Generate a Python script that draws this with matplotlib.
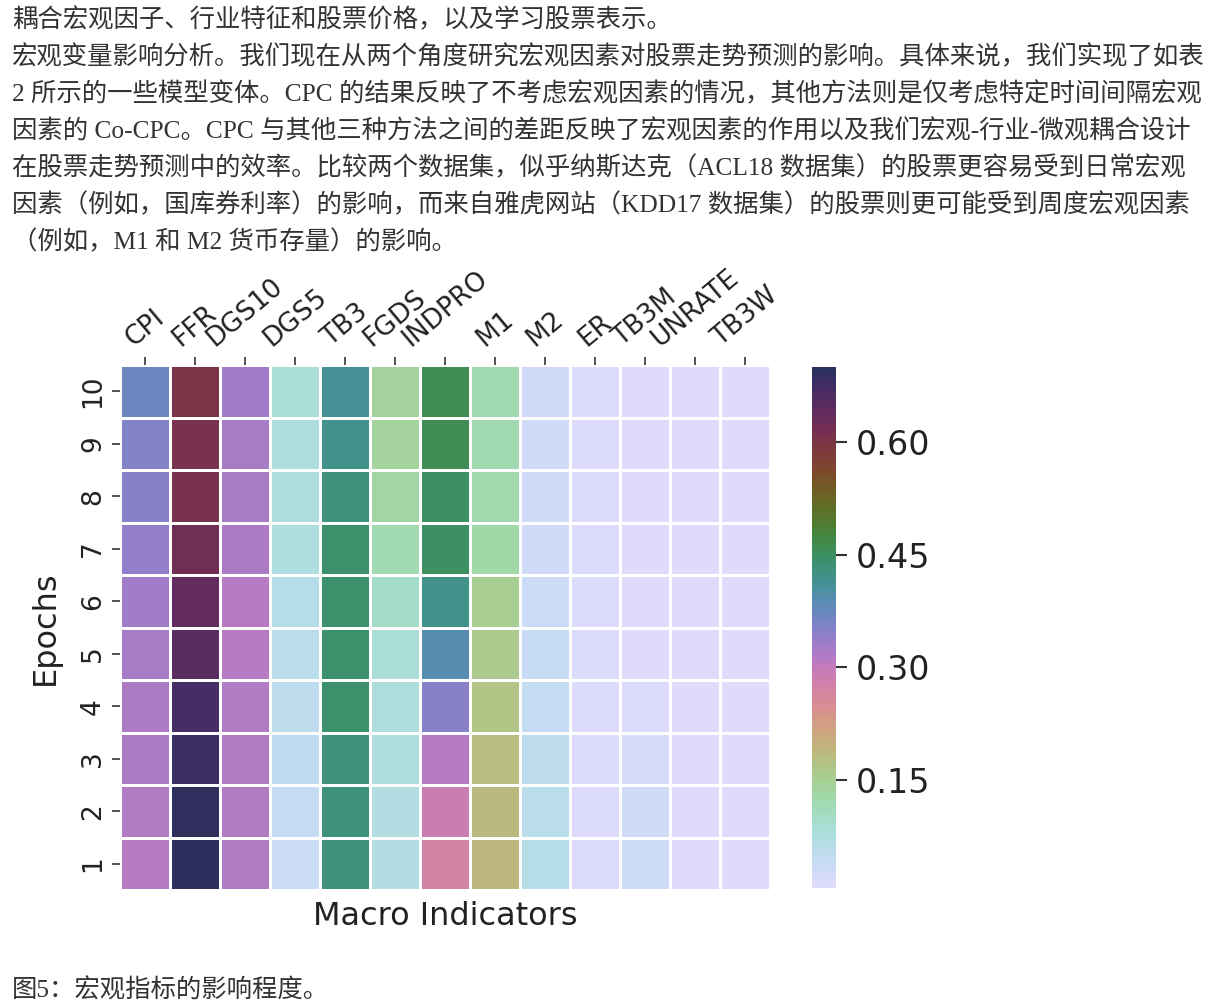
import numpy as np
import matplotlib
matplotlib.use("Agg")
import matplotlib.pyplot as plt
from matplotlib.colors import ListedColormap, Normalize
from matplotlib.colorbar import ColorbarBase

plt.rcParams['font.family'] = ['DejaVu Sans', 'Noto Sans CJK SC']

# ---------------- data ----------------
indicators = ["CPI", "FFR", "DGS10", "DGS5", "TB3", "FGDS", "INDPRO",
              "M1", "M2", "ER", "TB3M", "UNRATE", "TB3W"]
epochs = [1, 2, 3, 4, 5, 6, 7, 8, 9, 10]

CPI    = [0.310, 0.315, 0.320, 0.320, 0.325, 0.330, 0.340, 0.350, 0.355, 0.370]
FFR    = [0.70, 0.69, 0.68, 0.67, 0.65, 0.64, 0.62, 0.61, 0.61, 0.60]
DGS10  = [0.315, 0.315, 0.315, 0.315, 0.310, 0.310, 0.320, 0.325, 0.325, 0.330]
DGS5   = [0.038, 0.042, 0.047, 0.052, 0.058, 0.065, 0.072, 0.075, 0.078, 0.080]
TB3    = [0.43, 0.43, 0.43, 0.44, 0.44, 0.44, 0.44, 0.43, 0.42, 0.41]
FGDS   = [0.070, 0.070, 0.072, 0.075, 0.080, 0.100, 0.120, 0.135, 0.140, 0.140]
INDPRO = [0.27, 0.29, 0.31, 0.35, 0.39, 0.42, 0.45, 0.45, 0.46, 0.46]
M1     = [0.190, 0.185, 0.180, 0.170, 0.160, 0.150, 0.130, 0.125, 0.120, 0.120]
M2     = [0.065, 0.060, 0.050, 0.045, 0.040, 0.035, 0.030, 0.030, 0.030, 0.030]
ER     = [0.012, 0.012, 0.012, 0.012, 0.012, 0.012, 0.012, 0.012, 0.012, 0.012]
TB3M   = [0.035, 0.030, 0.020, 0.012, 0.010, 0.010, 0.010, 0.010, 0.010, 0.010]
UNRATE = [0.010, 0.010, 0.010, 0.010, 0.010, 0.010, 0.010, 0.010, 0.010, 0.010]
TB3W   = [0.006, 0.008, 0.008, 0.008, 0.008, 0.008, 0.008, 0.008, 0.008, 0.008]

cbar_ticks = [0.15, 0.30, 0.45, 0.60]

para_lines = [
    "耦合宏观因子、行业特征和股票价格，以及学习股票表示。",
    "宏观变量影响分析。我们现在从两个角度研究宏观因素对股票走势预测的影响。具体来说，我们实现了如表",
    "2 所示的一些模型变体。CPC 的结果反映了不考虑宏观因素的情况，其他方法则是仅考虑特定时间间隔宏观",
    "因素的 Co-CPC。CPC 与其他三种方法之间的差距反映了宏观因素的作用以及我们宏观-行业-微观耦合设计",
    "在股票走势预测中的效率。比较两个数据集，似乎纳斯达克（ACL18 数据集）的股票更容易受到日常宏观",
    "因素（例如，国库券利率）的影响，而来自雅虎网站（KDD17 数据集）的股票则更可能受到周度宏观因素",
    "（例如，M1 和 M2 货币存量）的影响。",
]
caption = "图5：宏观指标的影响程度。"


# ---------------- colormap (cubehelix, light -> dark) ----------------
def cubehelix_cmap(start, rot, hue, gamma, light, dark, n=256):
    x = np.linspace(light, dark, n)
    xg = x ** gamma
    a = hue * xg * (1 - xg) / 2
    phi = 2 * np.pi * (start / 3 + rot * x)
    r = xg + a * (-0.14861 * np.cos(phi) + 1.78277 * np.sin(phi))
    g = xg + a * (-0.29227 * np.cos(phi) - 0.90649 * np.sin(phi))
    b = xg + a * (1.97294 * np.cos(phi))
    rgb = np.clip(np.stack([r, g, b], axis=1), 0, 1)
    return ListedColormap(rgb)


cmap = cubehelix_cmap(start=1.12, rot=3.0, hue=1.0, gamma=1.0,
                      light=0.88, dark=0.20)

# ---------------- figure ----------------
W, H = 1227, 1007
fig = plt.figure(figsize=(W / 100, H / 100), dpi=100)

text_font = ['Liberation Serif', 'Noto Sans CJK SC']
for i, line in enumerate(para_lines):
    fig.text(12 / W, 1 - (20 + 37 * i) / H, line, fontsize=18.3,
             family=text_font, color='#333333', va='center', ha='left')
fig.text(12 / W, 1 - 990 / H, caption, fontsize=18.3, family=text_font,
         color='#333333', va='center', ha='left')

matrix = np.array([CPI, FFR, DGS10, DGS5, TB3, FGDS, INDPRO, M1, M2,
                   ER, TB3M, UNRATE, TB3W]).T  # rows = epochs
norm = Normalize(vmin=matrix.min(), vmax=matrix.max())

ax = fig.add_axes([120 / W, 1 - 890 / H, 650 / W, 525 / H])
ax.pcolormesh(np.arange(len(indicators) + 1), np.arange(len(epochs) + 1),
              matrix, cmap=cmap, norm=norm, edgecolor='white', linewidth=2)
ax.set_xlim(0, len(indicators))
ax.set_ylim(0, len(epochs))
for s in ax.spines.values():
    s.set_visible(False)

ax.xaxis.tick_top()
ax.set_xticks(np.arange(len(indicators)) + 0.5)
ax.set_xticklabels(indicators, rotation=40, fontsize=19, color='#222222')
ax.set_yticks(np.arange(len(epochs)) + 0.5)
ax.set_yticklabels([str(e) for e in epochs], rotation=90, va='center',
                   fontsize=19, color='#222222')
ax.tick_params(axis='both', length=6, width=1.2, color='#333333', pad=4)
ax.set_xlabel("Macro Indicators", fontsize=23, color='#222222', labelpad=8)
ax.set_ylabel("Epochs", fontsize=23, color='#222222', labelpad=14)

cax = fig.add_axes([812 / W, 1 - 888 / H, 24 / W, 521 / H])
cb = ColorbarBase(cax, cmap=cmap, norm=norm, orientation='vertical')
cb.outline.set_visible(False)
cb.set_ticks(cbar_ticks)
cb.set_ticklabels([f"{t:.2f}" for t in cbar_ticks])
cax.tick_params(labelsize=24, length=8, width=1.5, color='#333333',
                labelcolor='#222222', pad=6)

fig.savefig("out.png", dpi=100)
